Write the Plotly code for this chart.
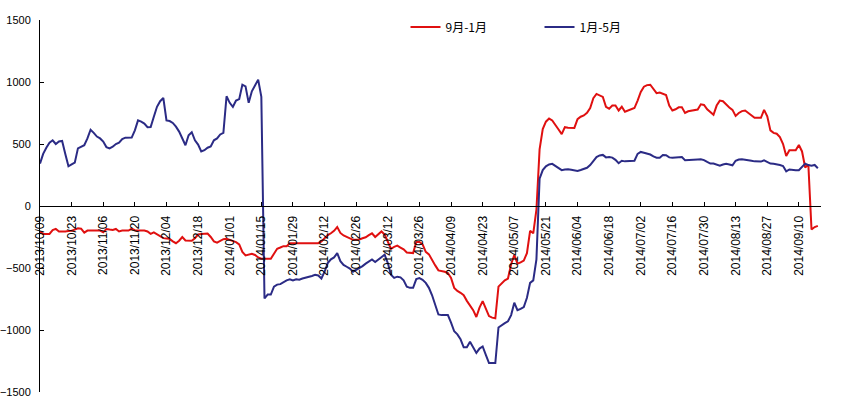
import plotly.graph_objects as go
import pandas as pd

# Weekday dates from 2013/10/09 through 2014/09/18
dates = [d.strftime("%Y/%m/%d") for d in pd.bdate_range("2013-10-09", "2014-09-18")]

tick_labels = [
    "2013/10/09", "2013/10/23", "2013/11/06", "2013/11/20", "2013/12/04", "2013/12/18",
    "2014/01/01", "2014/01/15", "2014/01/29", "2014/02/12", "2014/02/26", "2014/03/12",
    "2014/03/26", "2014/04/09", "2014/04/23", "2014/05/07", "2014/05/21", "2014/06/04",
    "2014/06/18", "2014/07/02", "2014/07/16", "2014/07/30", "2014/08/13", "2014/08/27",
    "2014/09/10",
]

y_ticks = [-1500, -1000, -500, 0, 500, 1000, 1500]

series_sep_jan = [  # 9月-1月 (red)
    -206, -225, -225, -225, -195, -185, -205, -206, -205, -201,
    -200, -190, -180, -183, -215, -198, -198, -198, -198, -198,
    -211, -186, -190, -193, -185, -205, -198, -198, -198, -182,
    -195, -198, -198, -198, -205, -225, -213, -230, -248, -259,
    -262, -265, -285, -300, -280, -250, -278, -280, -280, -260,
    -230, -225, -225, -222, -250, -285, -295, -280, -268, -265,
    -275, -282, -291, -310, -370, -398, -390, -385, -395, -415,
    -425, -425, -425, -425, -385, -345, -335, -324, -324, -300,
    -300, -300, -300, -300, -300, -300, -300, -300, -300, -285,
    -260, -235, -220, -200, -170, -217, -238, -250, -265, -273,
    -273, -270, -260, -252, -235, -220, -250, -225, -205, -230,
    -290, -345, -330, -320, -335, -350, -375, -380, -380, -290,
    -290, -310, -370, -390, -440, -479, -519, -523, -530, -540,
    -580, -660, -685, -700, -720, -765, -800, -840, -895, -820,
    -767, -830, -888, -900, -906, -650, -625, -600, -585, -470,
    -395, -465, -455, -440, -380, -200, -220, -30, 457, 620,
    680, 705, 690, 658, 617, 580, 636, 632, 630, 630,
    700, 720, 730, 751, 790, 870, 904, 893, 880, 800,
    785, 810, 810, 770, 800, 760, 770, 780, 790, 850,
    920, 962, 975, 978, 945, 910, 915, 905, 895, 810,
    770, 780, 796, 796, 751, 764, 770, 775, 778, 820,
    815, 780, 760, 735, 810, 850, 845, 818, 795, 775,
    726, 750, 765, 770, 750, 725, 711, 711, 711, 775,
    724, 610, 590, 583, 556, 500, 404, 449, 449, 449,
    492, 440, 310, 335, -190, -170, -160,
]

series_jan_may = [  # 1月-5月 (blue)
    342, 420, 470, 510, 530, 500, 520, 525, 420, 320,
    335, 350, 465, 480, 490, 545, 615, 590, 560, 545,
    520, 475, 465, 478, 500, 511, 540, 551, 550, 552,
    610, 690, 680, 665, 635, 637, 720, 800, 845, 872,
    690, 685, 670, 640, 600, 550, 490, 570, 595, 530,
    495, 440, 450, 470, 480, 530, 545, 577, 590, 885,
    832, 800, 850, 862, 978, 965, 832, 925, 978, 1019,
    880, -746, -714, -714, -650, -634, -630, -612, -600, -591,
    -601, -591, -595, -585, -580, -570, -564, -555, -560, -585,
    -530, -460, -430, -415, -380, -445, -475, -490, -505, -530,
    -515, -505, -485, -465, -450, -431, -452, -431, -410, -393,
    -460, -555, -580, -570, -575, -600, -650, -660, -660, -590,
    -582, -595, -620, -660, -720, -800, -875, -880, -880, -880,
    -940, -1010, -1035, -1075, -1140, -1140, -1095, -1140, -1185, -1150,
    -1133, -1200, -1267, -1267, -1267, -980, -960, -945, -930, -880,
    -780, -840, -830, -815, -740, -620, -600, -430, 220, 290,
    320, 335, 340, 323, 305, 289, 295, 297, 292, 289,
    282, 290, 300, 308, 330, 360, 395, 408, 412, 392,
    395, 390, 372, 345, 365, 360, 360, 362, 365, 420,
    436, 430, 422, 415, 400, 390, 390, 412, 410, 392,
    390, 390, 390, 395, 369, 369, 369, 372, 375, 377,
    370, 355, 342, 342, 335, 325, 335, 340, 335, 328,
    365, 375, 377, 375, 370, 365, 360, 358, 358, 368,
    355, 342, 340, 338, 330, 322, 280, 295, 290, 289,
    289, 320, 342, 330, 325, 331, 305,
]

n = min(len(dates), len(series_sep_jan), len(series_jan_may))
x = dates[:n]

RED = "#e01010"
BLUE = "#2b2b85"

fig = go.Figure()
fig.add_trace(go.Scatter(x=x, y=series_sep_jan[:n], mode="lines", name="9月-1月",
                         line=dict(color=RED, width=2)))
fig.add_trace(go.Scatter(x=x, y=series_jan_may[:n], mode="lines", name="1月-5月",
                         line=dict(color=BLUE, width=2)))

fig.update_layout(
    width=850, height=399,
    margin=dict(l=40, r=29, t=20, b=7, autoexpand=False),
    paper_bgcolor="white", plot_bgcolor="white",
    font=dict(family="Liberation Sans, Arial, sans-serif", size=12, color="black"),
    showlegend=True,
    legend=dict(orientation="h", x=0.468, xanchor="left", y=0.981, yanchor="middle",
                font=dict(family="Noto Sans CJK SC, sans-serif", size=12),
                entrywidth=89, entrywidthmode="pixels",
                bgcolor="rgba(0,0,0,0)", itemwidth=30),
    xaxis=dict(
        type="category",
        range=[0, 247],
        tickmode="array", tickvals=tick_labels, ticktext=tick_labels,
        tickangle=-90,
        anchor="free", position=0.5,
        showline=True, linecolor="black", linewidth=1,
        ticks="inside", ticklen=4, tickcolor="black",
        showgrid=False, zeroline=False,
        ticklabelstandoff=4,
        tickfont=dict(size=12),
        automargin=False,
    ),
    yaxis=dict(
        range=[-1500, 1500],
        tickmode="array", tickvals=y_ticks,
        showline=True, linecolor="black", linewidth=1,
        ticks="inside", ticklen=4, tickcolor="black",
        showgrid=False, zeroline=False,
        ticklabelstandoff=6,
        ticklabeloverflow="allow",
        tickfont=dict(size=11),
        automargin=False,
    ),
)

fig.write_html("out.html", config={"displayModeBar": False},
               post_script="document.body.style.margin='0';")
